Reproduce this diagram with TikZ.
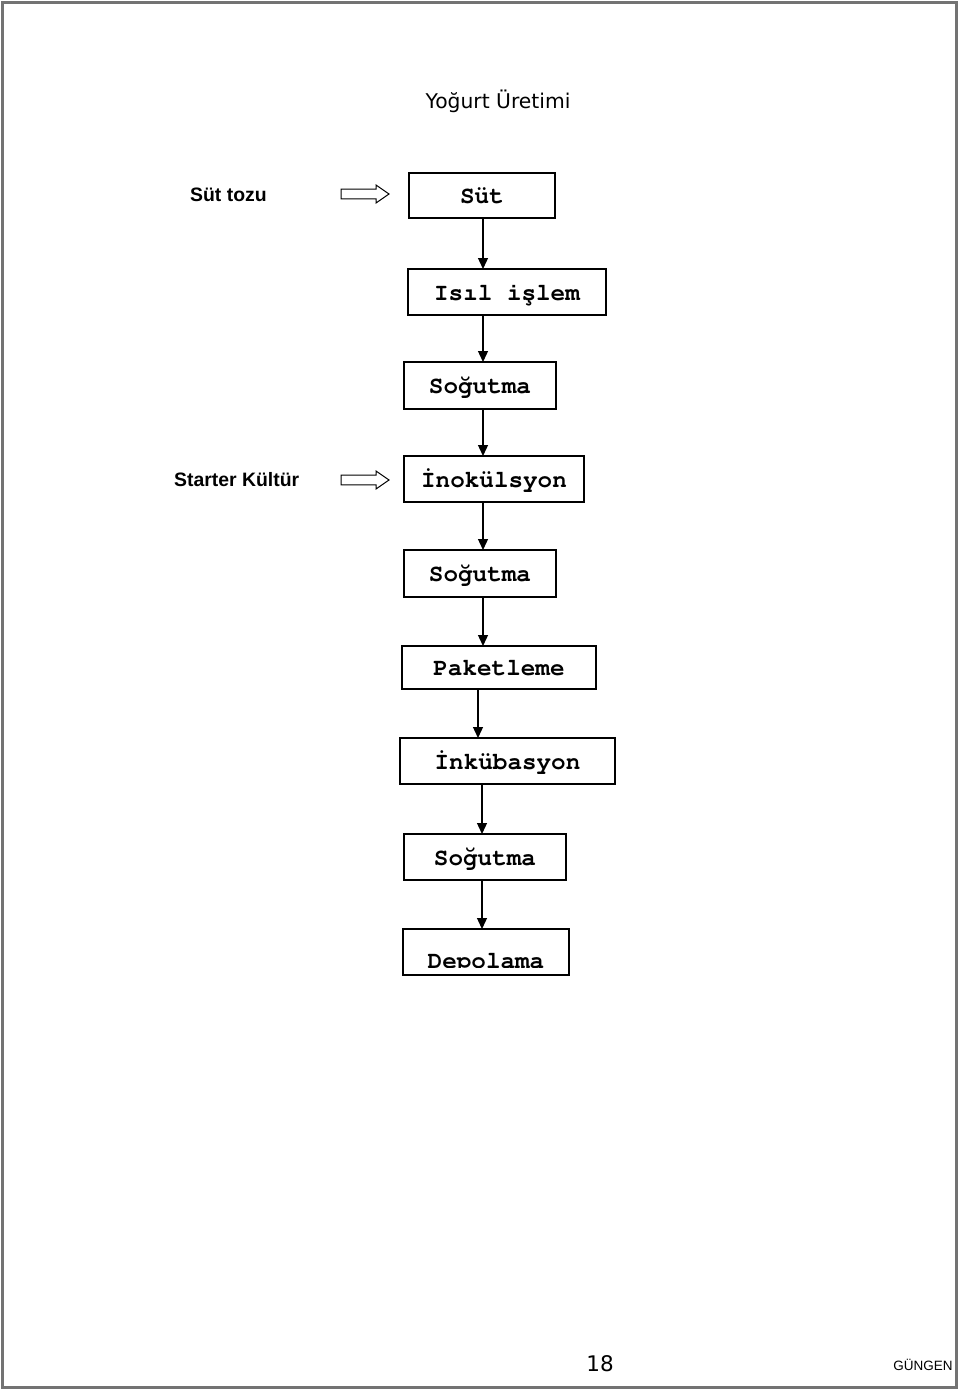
\documentclass[tikz,border=0pt]{standalone}
\usepackage[T1]{fontenc}
\usepackage{fontspec}
\usetikzlibrary{arrows.meta}
\newfontfamily\sidefont{Liberation Sans}
\newfontfamily\headfont{DejaVu Sans}
\newcommand\stepfont{\fontencoding{T1}\fontfamily{pcr}\bfseries}
\tikzset{
  stepbox/.style={draw, line width=1.5pt, outer sep=0pt, inner sep=0pt,
    text height=16.5pt, text depth=0pt,
    font=\stepfont\fontsize{24.3pt}{28pt}\selectfont},
  sidelabel/.style={inner sep=0pt, font=\sidefont\bfseries\fontsize{19.4pt}{23pt}\selectfont},
  flow/.style={line width=1.3pt, -{Triangle[width=10pt,length=11pt]}},
  hollowarrow/.pic={\draw[line width=1pt] (0,-4.8) -- (35,-4.8) -- (35,-9) -- (48,0) -- (35,9) -- (35,4.8) -- (0,4.8) -- cycle;}
}
\begin{document}
\begin{tikzpicture}[x=1pt,y=-1pt]
\useasboundingbox (0,0) rectangle (960,1390);
\draw[line width=2.5pt, black!55] (2.5,2.5) rectangle (956.5,1387.5);

\node[anchor=base, inner sep=0pt, font=\headfont\fontsize{20.3pt}{24pt}\selectfont] (title) at (498,108.7) {Yoğurt Üretimi};

\node[stepbox, minimum width=146pt, minimum height=45pt] (sut) at (482,195.5) {S\"ut};
\node[stepbox, minimum width=198pt, minimum height=46pt] (isil) at (507,292) {Is\i l i\c{s}lem};
\node[stepbox, minimum width=152pt, minimum height=47pt] (soga) at (480,385.5) {So\u{g}utma};
\node[stepbox, minimum width=180pt, minimum height=46pt] (inok) at (494,479) {\.Inok\"ulsyon};
\node[stepbox, minimum width=152pt, minimum height=47pt] (sogb) at (480,573.5) {So\u{g}utma};
\node[stepbox, minimum width=194pt, minimum height=43pt] (paket) at (499,667.5) {Paketleme};
\node[stepbox, minimum width=215pt, minimum height=46pt] (inku) at (507.5,761) {\.Ink\"ubasyon};
\node[stepbox, minimum width=162pt, minimum height=46pt] (sogc) at (485,857) {So\u{g}utma};
\node[stepbox, minimum width=166pt, minimum height=46pt] (depo) at (486,952) {};
\begin{scope}
\clip (depo.north west) rectangle ([yshift=8pt]depo.south east);
\node[stepbox, draw=none, text height=, text depth=, anchor=base] (depotext) at (486,968.2) {Depolama};
\end{scope}

\node[sidelabel, anchor=west] (toz) at (190,195) {Süt tozu};
\node[sidelabel, anchor=west] (starter) at (174,480) {Starter Kültür};
\pic at (341,194) {hollowarrow};
\pic at (341,480) {hollowarrow};

\coordinate (axisa) at (483,0);
\coordinate (axisb) at (478,0);
\coordinate (axisc) at (482,0);
\draw[flow] (sut.south -| axisa) -- (isil.north -| axisa);
\draw[flow] (isil.south -| axisa) -- (soga.north -| axisa);
\draw[flow] (soga.south -| axisa) -- (inok.north -| axisa);
\draw[flow] (inok.south -| axisa) -- (sogb.north -| axisa);
\draw[flow] (sogb.south -| axisa) -- (paket.north -| axisa);
\draw[flow] (paket.south -| axisb) -- (inku.north -| axisb);
\draw[flow] (inku.south -| axisc) -- (sogc.north -| axisc);
\draw[flow] (sogc.south -| axisc) -- (depo.north -| axisc);

\node[anchor=base, inner sep=0pt, font=\headfont\fontsize{21.5pt}{25pt}\selectfont] (page) at (600,1371.7) {18};
\node[anchor=base, inner sep=0pt, font=\sidefont\fontsize{13.5pt}{16pt}\selectfont] (name) at (923,1370) {GÜNGEN};
\end{tikzpicture}
\end{document}
